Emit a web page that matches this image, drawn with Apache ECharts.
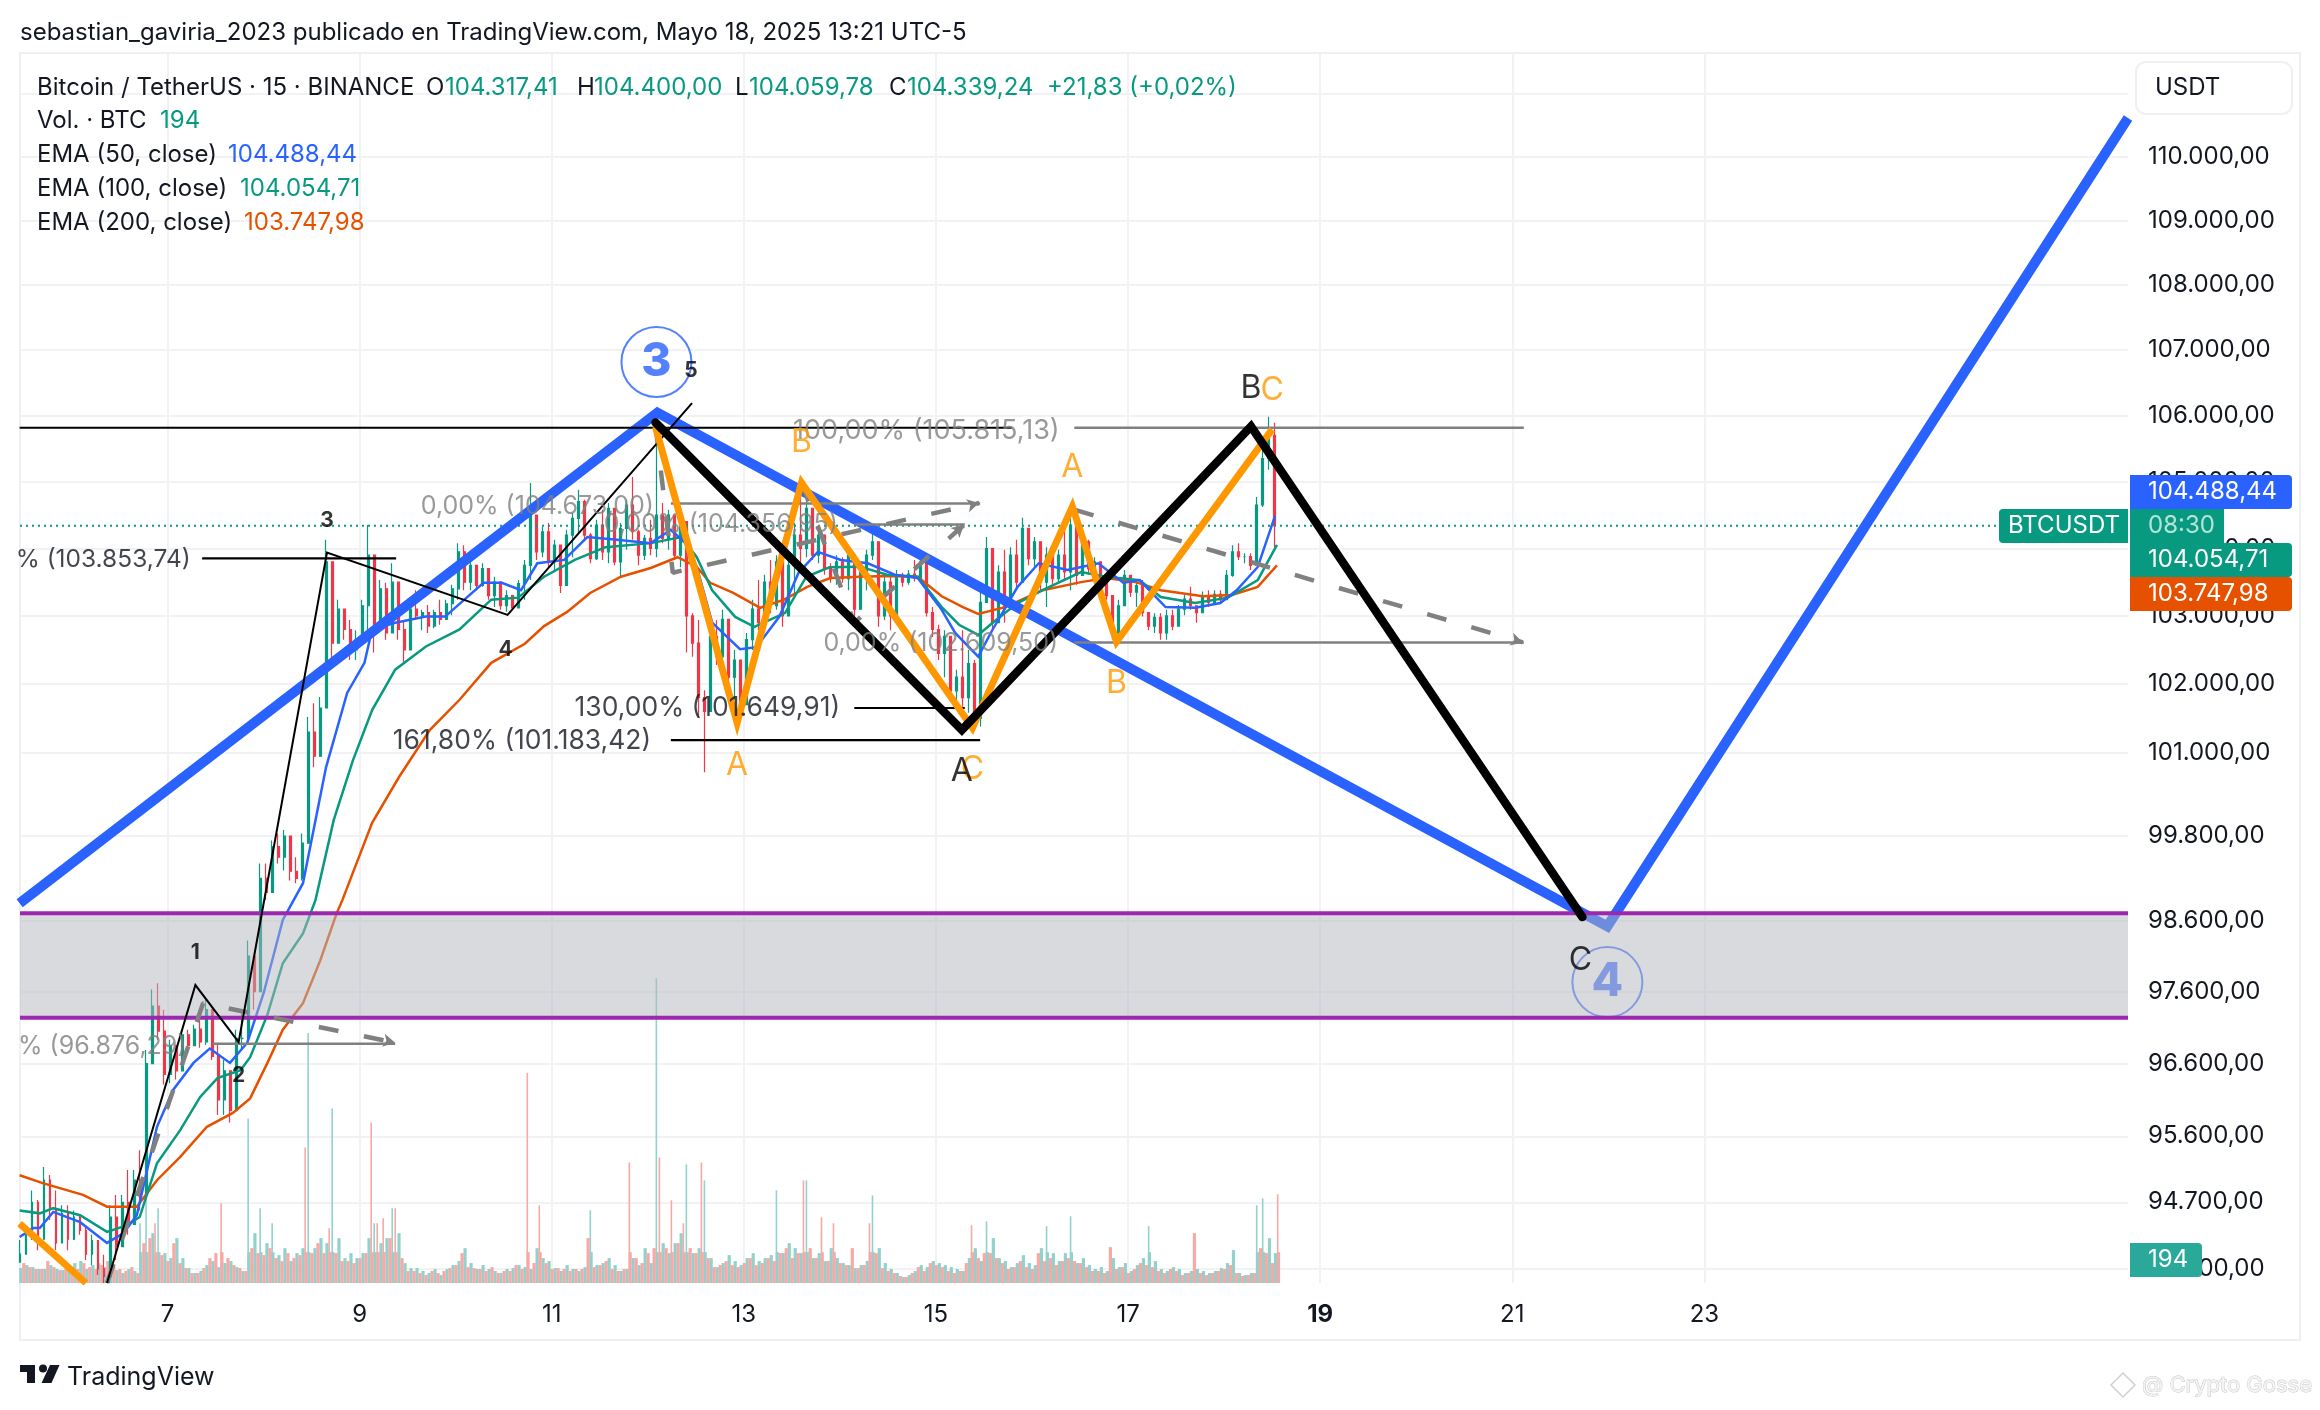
<!DOCTYPE html>
<html><head><meta charset="utf-8"><style>html,body{margin:0;background:#fff}#c{width:2320px;height:1410px}</style>
<script src="https://cdn.jsdelivr.net/npm/echarts@6/dist/echarts.min.js"></script></head><body><div id="c"></div>
<script>
const priceTicks=[110000,109000,108000,107000,106000,105000,104000,103000,102000,101000,99800,98600,97600,96600,95600,94700,93800];
const gridOnlyTicks=[111000];
const dayTicks=[7,9,11,13,15,17,19,21,23];
const firstCandleDay=5.464, candleStep=0.0625, volumeOffset=0.03125, spikeFloor=420, spikeBase=260;
const candleHigh=[94190,94390,94860,94730,95180,95070,94860,94660,94660,94590,94530,94390,94260,94050,93990,94660,94800,94800,95140,95140,95410,96790,97630,97720,97350,96930,96790,97070,97070,97140,97280,97490,97210,96860,96650,96510,97070,97350,98320,98040,99410,99410,99740,99840,99890,99670,99500,99840,101520,101720,101810,104130,103280,103240,103090,102940,102790,103240,104350,103640,103530,103490,103780,103380,102940,103240,103380,103090,103160,103090,103240,103240,103460,104080,104050,103830,103750,103780,103670,103580,103460,103380,103280,103530,103830,104980,104430,104320,104380,104130,103930,104280,104530,104880,104730,104230,104430,104580,104680,104280,104380,104730,105070,104280,104200,104430,105740,104680,104580,104500,104470,104130,103040,102940,101910,102840,102940,103090,102750,102500,102250,102750,103240,103530,103610,103830,103900,104020,103870,104380,104980,104730,104500,104280,104050,103780,103900,103870,103980,103830,103750,103980,104230,103580,103610,103640,103680,103640,103680,103830,103870,103430,103130,102870,102790,102350,102210,102790,102500,102350,103380,104170,103380,103750,103980,104020,104130,104460,104200,104170,104050,104020,103980,103980,104280,104470,104470,104170,104130,103870,103750,103580,103280,103240,103680,103610,103530,103530,103040,103040,103040,103090,103090,103160,103310,103430,103130,103360,103380,103380,103380,103680,104050,104080,103930,103930,104770,105530,105980,105890];
const candleLow=[93890,93990,94190,94050,94390,94460,94050,94190,94050,94190,94260,93920,93850,93720,93610,93610,93920,94260,94260,94530,94590,95410,96650,96930,96310,96330,96380,96650,96790,96860,96820,96860,96650,95890,95890,95790,96380,96790,96860,97350,98040,98890,99240,99410,99310,99170,99130,99170,99740,100790,101000,102060,102350,102650,102650,102350,102350,102720,102650,102460,102790,102650,102790,102650,102310,102500,102940,102790,102750,102820,102870,102940,103010,103240,103380,103380,103380,103430,103240,103130,103090,103060,103090,103160,103240,103530,103830,103870,103720,103680,103340,103680,103870,104230,104130,103780,103830,103830,103780,103750,103580,103980,104130,103750,103830,103900,103870,104080,103980,103830,103720,102460,102400,101520,100720,101770,102280,102350,101960,101770,101480,102310,102500,102790,102940,103040,103090,102840,103040,103280,103780,103870,103830,103780,103610,103490,103460,103490,103380,102900,103240,103380,103830,102840,102940,102790,103240,103430,103460,103510,103530,102990,102690,102350,102100,101770,101620,101670,101580,101410,101380,103280,102790,102940,102900,103280,103380,103680,103750,103720,103380,103130,103460,103490,103530,103380,103460,103680,103610,103490,103460,103240,102650,102650,103190,103280,103130,102990,102790,102750,102650,102650,102790,102870,103010,103090,102900,103090,103130,103160,103190,103340,103580,103830,103780,103680,103930,104620,105180,104020];
const candleClose=[94000,94300,94700,94200,95000,94600,94150,94550,94200,94500,94320,94000,94180,93800,93700,94500,94100,94700,94400,95000,94800,96600,97400,97050,96450,96850,96500,97000,96850,97080,96900,97350,96700,96100,96500,95950,96950,96950,98100,97600,99200,99000,99650,99500,99800,99300,99200,99700,101300,100950,101650,103800,102600,103100,102800,102500,102650,103150,103900,102800,103400,102750,103500,102800,102500,103100,103000,103050,102850,103050,102950,103180,103400,103950,103500,103750,103450,103700,103300,103500,103150,103300,103120,103480,103750,104500,103950,104250,103800,104050,103450,104200,104450,104700,104200,103850,104350,103950,104600,103800,104300,104650,104250,103900,104150,104000,104500,104150,104500,103900,104400,103000,102600,101800,101600,102700,102400,102950,102100,102350,101700,102650,103100,102900,103500,103150,103800,103000,103750,104200,104000,104600,103900,104200,103700,103550,103800,103550,103900,103100,103650,103900,104100,103000,103500,103000,103600,103500,103620,103560,103800,103050,102800,102450,102700,101900,102100,101800,102300,101500,103200,104000,102900,103650,103100,103900,103500,104300,103850,104100,103500,103900,103550,103900,103650,104350,103600,104100,103700,103800,103550,103300,102750,103150,103600,103350,103450,103050,102850,102980,102750,103000,102850,103100,103250,103150,103050,103300,103200,103320,103240,103600,103950,103880,103880,103750,104650,105350,105700,104340];
const tealVolume=[126,151,134,118,118,151,118,109,126,168,185,118,151,168,134,118,109,84,118,101,504,949,420,630,252,210,378,210,126,84,101,151,185,134,168,185,134,101,1386,420,630,336,504,235,294,185,252,294,2108,294,378,336,1470,378,210,252,210,252,378,504,336,378,630,420,168,126,126,101,84,118,67,118,151,185,294,168,118,151,118,101,84,118,126,151,134,118,294,210,185,126,101,151,118,101,134,613,151,168,210,151,101,118,210,151,294,168,2570,336,252,336,420,1000,252,294,865,210,134,168,235,185,151,210,252,185,210,235,781,252,336,294,252,865,210,252,185,294,210,168,151,126,151,185,739,294,168,118,84,50,67,101,151,134,185,168,151,134,118,101,210,294,185,520,378,210,185,134,168,235,168,151,294,479,252,185,252,563,168,210,151,118,134,101,210,134,168,101,151,210,479,185,118,101,134,118,84,101,118,101,84,101,126,168,277,84,67,84,655,714,378,252];
const redVolume=[168,134,118,118,185,134,109,118,134,118,168,134,118,151,185,134,118,101,134,84,336,378,504,235,185,336,168,126,84,84,126,210,252,672,210,151,126,101,294,252,235,294,210,185,252,210,235,1142,252,336,252,462,252,185,185,168,210,252,1352,504,546,378,630,210,101,101,84,67,101,84,101,126,151,252,134,126,118,101,134,84,101,101,151,118,1772,168,655,168,118,126,118,101,118,118,378,134,151,185,118,101,118,1016,210,168,252,294,1058,294,697,336,504,294,252,1016,210,134,151,185,151,134,168,210,151,168,210,185,252,294,210,252,865,294,210,554,185,504,168,151,294,126,151,504,252,126,101,84,59,50,84,134,101,168,151,134,101,84,101,168,487,210,252,252,210,168,118,134,185,134,118,252,185,210,151,185,210,185,168,134,101,101,84,302,118,134,84,118,168,151,134,101,84,118,101,67,84,420,84,67,84,101,118,151,84,59,67,84,294,252,168,748];
const emaDays200=[5.46,5.70,6.12,6.37,6.68,6.89,7.13,7.41,7.68,7.86,8.04,8.20,8.41,8.59,8.76,8.82,9.13,9.41,9.73,10.04,10.37,10.72,10.92,11.16,11.40,11.72,12.03,12.31,12.51,12.65,12.89,13.17,13.42,13.66,13.90,14.21,14.49,14.81,15.06,15.28,15.44,15.72,16.11,16.51,16.77,17.08,17.34,17.78,18.08,18.35,18.55];
const ema200=[95068,94960,94800,94640,94640,95000,95315,95730,95920,96120,96610,97070,97440,98040,98700,98890,99990,100650,101330,101770,102310,102590,102850,103060,103340,103580,103710,103870,103725,103490,103340,103120,103240,103430,103560,103580,103590,103580,103290,103130,103030,103130,103380,103500,103560,103500,103380,103290,103310,103430,103748];
const emaDays100=[5.46,5.67,5.81,6.09,6.37,6.58,6.71,6.89,7.13,7.34,7.52,7.76,7.86,8.04,8.20,8.41,8.54,8.73,8.93,9.13,9.37,9.69,10.04,10.37,10.65,10.92,11.24,11.56,12.03,12.35,12.51,12.67,12.91,13.11,13.43,13.65,13.89,14.21,14.49,14.81,15.06,15.24,15.44,15.59,15.85,16.11,16.51,16.77,17.12,17.34,17.70,18.04,18.35,18.55];
const ema100=[94590,94550,94620,94525,94300,94390,94500,95230,95680,96140,96400,96510,96690,97280,98000,98420,98890,100030,100890,101620,102210,102550,102800,103240,103270,103580,103830,104020,104080,104170,103870,103380,102985,102840,103045,103580,103720,103730,103610,103580,103130,102870,102720,102900,103190,103380,103650,103580,103530,103280,103190,103270,103530,104055];
const emaDays50=[5.46,5.60,5.67,5.81,6.09,6.37,6.54,6.68,6.89,7.06,7.27,7.44,7.65,7.83,8.00,8.20,8.41,8.65,8.87,9.05,9.13,9.37,9.69,9.89,10.09,10.29,10.48,10.68,10.85,11.13,11.37,11.68,12.03,12.24,12.39,12.51,12.67,12.96,13.13,13.37,13.57,13.77,14.01,14.29,14.57,14.81,15.06,15.20,15.44,15.59,15.85,16.07,16.37,16.69,16.95,17.12,17.39,17.70,17.96,18.13,18.35,18.53];
const ema50=[94230,94350,94350,94570,94430,94150,94280,94525,95730,96240,96610,96810,96610,96890,97580,98610,99130,100790,101870,102310,102800,102900,102990,102990,103240,103490,103490,103380,103780,103830,104170,104130,104080,104280,104080,103725,102900,102510,102540,102990,103640,103950,103830,103780,103610,103560,103090,102750,102400,102800,103430,103780,103680,103780,103490,103530,103130,103120,103190,103380,103725,104488];
const blueWave=[[5.46,98845],[12.10,106045],[21.99,98520],[27.41,110616]];
const blackWave=[[12.08,105895],[15.27,101331],[18.28,105835],[21.73,98650]];
const orangeWave=[[12.08,105830],[12.93,101434],[13.60,104985],[15.38,101360],[16.42,104625],[16.88,102620],[18.50,105790]];
const orangeOldWave=[[5.46,94410],[6.15,93611]];
const thinWave=[[6.37,93611],[7.29,97694],[7.74,96900],[8.66,103940],[10.54,103015],[12.46,106190]];
const dashPaths=[[[6.37,93611],[7.37,97440],[9.37,96890]],[[12.08,105860],[12.26,103640],[15.45,104680]],[[13.60,104985],[14.15,102900],[15.29,104350]],[[16.44,104580],[21.11,102610]]];
const arrowAngles=[-102,-77,-48,-106];
const grayFibLevels=[[12.24,15.46,104673],[14.15,15.30,104356.95],[16.44,21.12,105815.13],[16.44,21.12,102609.5],[7.47,9.37,96876.29]];
const blackFibLevels=[[14.15,15.30,101649.91],[12.24,15.46,101183.42],[5.46,15.79,105815.13],[7.36,9.38,103853.74]];
const grayFibLabels=[[10.85,104630,'0,00% (104.673,00)'],[12.76,104356,'0,00% (104.356,95)'],[15.05,102590,'0,00% (102.609,50)'],[6.32,96840,'% (96.876,29)']];
const grayWideLabels=[[14.90,105770,'100,00% (105.815,13)']];
const blackFibLabels=[[12.62,101650,'130,00% (101.649,91)'],[10.69,101170,'161,80% (101.183,42)']];
const blackClippedLabels=[[6.33,103840,'% (103.853,74)']];
const countLabels=[[7.29,98155,'1'],[7.74,96430,'2'],[8.66,104420,'3'],[10.52,102510,'4'],[12.45,106678,'5']];
const orangeLabels=[[12.93,100825,'A'],[13.60,105600,'B'],[15.38,100760,'C'],[16.42,105210,'A'],[16.88,102015,'B'],[18.50,106390,'C']];
const blackLabels=[[15.27,100730,'A'],[18.28,106420,'B'],[21.71,98040,'C']];
const circleThree=[[12.09,106817,'3']], circleFour=[[21.99,97735,'4']];
const zoneTop=98704, zoneBottom=97236, lastPrice=104339.24;
const plotStart=5.464, plotEnd=27.41;

const F='Inter';
const fmt=v=>String(Math.round(v)).replace(/\B(?=(\d{3})+$)/g,'.')+',00';
const pair=(d,v)=>d.map((x,i)=>[x,v[i]]);
const line=(name,data,color,width,z,extra)=>Object.assign({type:'line',name,data,symbol:'none',z,silent:true,animation:false,lineStyle:{color,width,join:'miter',cap:'butt'}},extra||{});
const labels=(name,data,color,size,weight)=>({type:'scatter',name,z:30,symbolSize:1,silent:true,animation:false,itemStyle:{color:'transparent'},
  data:data.map(a=>({value:[a[0],a[1]],label:{show:true,position:'inside',formatter:a[2],color,fontSize:size,fontWeight:weight,fontFamily:F,textBorderWidth:0}}))});
const circle=(name,data,z)=>({type:'scatter',name,z,symbolSize:70,silent:true,animation:false,itemStyle:{color:'transparent',borderColor:'#2962ff',borderWidth:2},
  data:data.map(a=>({value:[a[0],a[1]],label:{show:true,position:'inside',formatter:a[2],color:'#2962ff',fontSize:46,fontWeight:800,fontFamily:F,textBorderWidth:0}}))});
const candles=candleClose.map((c,i)=>[firstCandleDay+i*candleStep,i?candleClose[i-1]:candleLow[0],c,candleLow[i],candleHigh[i]]);
const volBars=(name,list,off,color)=>{
  const pts=list.map((v,i)=>[firstCandleDay+i*candleStep+off,v]);
  return [
   {type:'bar',name,yAxisIndex:1,z:2,barWidth:3.2,barGap:'-100%',silent:true,animation:false,itemStyle:{color},data:pts.map(p=>[p[0],p[1]>spikeFloor?spikeBase:p[1]])},
   {type:'bar',name:name+' spikes',yAxisIndex:1,z:2,barWidth:1.6,barGap:'-100%',silent:true,animation:false,itemStyle:{color},data:pts.filter(p=>p[1]>spikeFloor)}
  ];
};
const series=[
 {type:'line',name:'zone',z:12,data:[],silent:true,markArea:{silent:true,z:12,itemStyle:{color:'rgba(178,181,190,0.5)'},data:[[{yAxis:zoneTop},{yAxis:zoneBottom}]]}},
 ...volBars('Vol up',tealVolume,0,'#92d2cc'),
 ...volBars('Vol down',redVolume,volumeOffset,'#f7a9a7'),
 {type:'candlestick',name:'BTCUSDT',z:3,silent:true,animation:false,barWidth:2.4,encode:{x:0,y:[1,2,3,4]},itemStyle:{color:'#089981',color0:'#f23645',borderColor:'#089981',borderColor0:'#f23645',borderWidth:1.2},data:candles},
 line('EMA 200',pair(emaDays200,ema200),'#e65100',2.5,5),
 line('EMA 100',pair(emaDays100,ema100),'#089981',2.5,5),
 line('EMA 50',pair(emaDays50,ema50),'#2962ff',2.5,5),
 line('Last',[[plotStart,lastPrice],[plotEnd,lastPrice]],'#089981',2,6,{lineStyle:{color:'#089981',width:2,type:[2,4]}}),
 line('Zone top',[[plotStart,zoneTop],[plotEnd,zoneTop]],'#9c27b0',4,14),
 line('Zone bottom',[[plotStart,zoneBottom],[plotEnd,zoneBottom]],'#9c27b0',4,14),
 ...grayFibLevels.map((l,i)=>line('Gray fib '+i,[[l[0],l[2]],[l[1],l[2]]],'#808080',2.5,15)),
 ...blackFibLevels.map((l,i)=>line('Black fib '+i,[[l[0],l[2]],[l[1],l[2]]],'#000000',2.2,15)),
 ...dashPaths.map((p,i)=>line('Dash '+i,p.map((pt,j)=>j==p.length-1?{value:pt,symbol:'arrow',symbolSize:[10,12],symbolRotate:arrowAngles[i],itemStyle:{color:'#808080'}}:pt),'#808080',4.5,16,{showSymbol:true,showAllSymbol:true,lineStyle:{color:'#808080',width:4.5,type:[20,26]}})),
 line('Thin wave',thinWave,'#000000',2,17),
 line('Blue wave',blueWave,'#2962ff',10,11),
 line('Orange wave',orangeWave,'#ff9800',7,18),
 line('Orange old wave',orangeOldWave,'#ff9800',7,18),
 line('Black wave',blackWave,'#000000',8.5,19,{lineStyle:{color:'#000000',width:8.5,join:'miter',cap:'round'}}),
 labels('Gray fib labels',grayFibLabels,'#808080',25,400),
 labels('Gray wide labels',grayWideLabels,'#808080',27,400),
 labels('Black fib labels',blackFibLabels,'#131722',26.5,400),
 labels('Black clipped labels',blackClippedLabels,'#131722',24.5,400),
 labels('Wave counts',countLabels,'#000000',21,700),
 labels('Orange labels',orangeLabels,'#ff9800',32,400),
 labels('Black labels',blackLabels,'#000000',32,400),
 circle('Circle 3',circleThree,29),
 circle('Circle 4',circleFour,10)
];
const txt=(x,y,text,color,size,extra)=>({type:'text',x,y,z:40,silent:true,style:Object.assign({text,fill:color,font:(size||24)+'px '+F,textVerticalAlign:'middle',textAlign:'left'},extra||{})});
const tag=(x,y,w,h,color,label,labelColor,r)=>[{type:'rect',x,y,z:38,silent:true,shape:{width:w,height:h,r:r||[0,4,4,0]},style:{fill:color}},txt(2148,y+h/2,label,labelColor,24)];
const K='#131722',G='#089981';
const graphic=[
 {type:'rect',x:20,y:53,z:-1,silent:true,shape:{width:2280,height:1287},style:{fill:'none',stroke:'#f0f0f2',lineWidth:2}},
 txt(20,33,'sebastian_gaviria_2023 publicado en TradingView.com, Mayo 18, 2025 13:21 UTC-5',K,24),
 txt(37,88,'Bitcoin / TetherUS · 15 · BINANCE',K,24),txt(426,88,'O',K,24),txt(445,88,'104.317,41',G,24),txt(577,88,'H',K,24),txt(594,88,'104.400,00',G,24),txt(735,88,'L',K,24),txt(749,88,'104.059,78',G,24),txt(889,88,'C',K,24),txt(907,88,'104.339,24',G,24),txt(1047,88,'+21,83 (+0,02%)',G,24),
 txt(37,121,'Vol. · BTC',K,24),txt(160,121,'194',G,24),
 txt(37,155,'EMA (50, close)',K,24),txt(228,155,'104.488,44','#2962ff',24),
 txt(37,189,'EMA (100, close)',K,24),txt(240,189,'104.054,71',G,24),
 txt(37,223,'EMA (200, close)',K,24),txt(244,223,'103.747,98','#e65100',24),
 {type:'rect',x:2136,y:62,z:37,silent:true,shape:{width:156,height:52,r:10},style:{fill:'#fff',stroke:'#f0f0f2',lineWidth:2}},txt(2155,88,'USDT',K,24),
 ...tag(2130,475,162,34,'#2962ff','104.488,44','#fff'),
 ...tag(2130,509,94,34,G,'08:30','#b5e3d8',[0,0,0,0]),
 ...tag(2130,543,162,34,G,'104.054,71','#fff'),
 ...tag(2130,577,162,34,'#e65100','103.747,98','#fff'),
 ...tag(2130,1243,72,34,'#2aa99a','194','#fff'),
 {type:'rect',x:1999,y:509,z:38,silent:true,shape:{width:129,height:34,r:[4,0,0,4]},style:{fill:G}},txt(2008,526,'BTCUSDT','#fff',24),
 {type:'polygon',z:40,silent:true,shape:{points:[[20,1365],[35,1365],[35,1383],[27,1383],[27,1372],[20,1372]]},style:{fill:K}},
 {type:'circle',z:40,silent:true,shape:{cx:43,cy:1368.5,r:4},style:{fill:K}},
 {type:'polygon',z:40,silent:true,shape:{points:[[50,1365],[59.5,1365],[51.5,1383],[41.5,1383]]},style:{fill:K}},
 txt(67,1377,'TradingView',K,25,{font:'25px '+F}),
 {type:'polygon',z:40,silent:true,shape:{points:[[2123,1373],[2135,1385],[2123,1397],[2111,1385]]},style:{fill:'#fff',stroke:'#d0d0d0',lineWidth:1.5}},
 txt(2142,1385,'@ Crypto Gosse','#f4f4f4',22,{stroke:'#c8c8c8',lineWidth:1})
];
const chart=echarts.init(document.getElementById('c'),null,{renderer:'canvas',width:2320,height:1410});
chart.setOption({animation:false,backgroundColor:'#fff',graphic,series,
 grid:{left:20,top:53,width:2108,height:1230,containLabel:false},
 xAxis:{type:'value',min:plotStart,max:plotEnd,position:'bottom',axisLine:{show:false},
  axisTick:{show:false,customValues:dayTicks},
  axisLabel:{customValues:dayTicks,margin:20,fontFamily:F,fontSize:24,color:K,formatter:v=>v===19?'{b|19}':String(v),rich:{b:{fontFamily:F,fontSize:24,fontWeight:700,color:K}}},
  splitLine:{show:true,lineStyle:{color:'#f2f2f4',width:2}}},
 yAxis:[{type:'log',min:93611,max:111652,position:'right',axisLine:{show:false},
  axisTick:{show:false,customValues:priceTicks.concat(gridOnlyTicks)},
  axisLabel:{customValues:priceTicks,margin:20,fontFamily:F,fontSize:24,color:K,formatter:fmt},
  splitLine:{show:true,lineStyle:{color:'#f2f2f4',width:2}}},
  {type:'value',min:0,max:10369,show:false,splitLine:{show:false}}],
});
</script></body></html>
